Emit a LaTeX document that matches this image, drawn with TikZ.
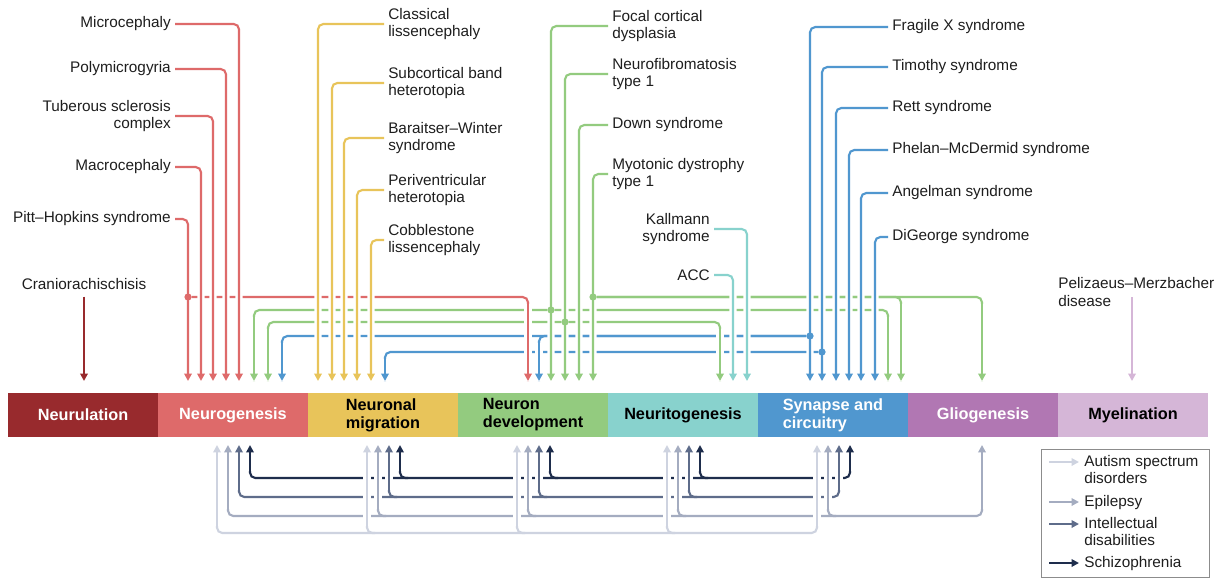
\documentclass[tikz,border=0pt]{standalone}
\usepackage{fontspec}
\setmainfont{Liberation Sans}
\usetikzlibrary{arrows.meta,positioning,calc}
\definecolor{ink}{RGB}{30,30,30}
\definecolor{cNL}{RGB}{152,42,45}
\definecolor{cNG}{RGB}{222,106,106}
\definecolor{cNM}{RGB}{232,196,90}
\definecolor{cND}{RGB}{147,203,127}
\definecolor{cNT}{RGB}{136,210,205}
\definecolor{cSC}{RGB}{80,151,207}
\definecolor{cGL}{RGB}{177,119,179}
\definecolor{cMY}{RGB}{213,182,215}
\definecolor{cASD}{RGB}{206,211,224}
\definecolor{cEPI}{RGB}{164,172,192}
\definecolor{cID}{RGB}{94,108,138}
\definecolor{cSZ}{RGB}{30,45,76}
\newcommand{\lblfont}{\fontsize{11.5}{12.8}\selectfont}
\newcommand{\stagefont}{\fontsize{12.2}{13.5}\selectfont\bfseries}
\tikzset{
    lbl/.style={
        font=\lblfont,
        text=ink,
        inner sep=0pt,
        inner xsep=3pt
    },
    stage/.style={
        minimum width=112.5pt,
        minimum height=33pt,
        inner sep=0pt,
        outer sep=0pt,
        align=left,
        font=\stagefont
    },
    wire/.style={
        line width=1.6pt,
        rounded corners=4pt,
        shorten >=9pt
    },
    upwire/.style={
        wire,
        shorten >=6pt
    },
    tip/.style={
        -{Triangle[length=5.6pt,width=5.6pt]}
    },
    casing/.style={
        preaction={draw=white, line width=5.4pt, -}
    },
    legendbox/.style={
        draw=black!45,
        line width=0.8pt,
        minimum width=126pt,
        minimum height=96pt,
        inner sep=0pt
    }
}
\begin{document}
\begin{tikzpicture}[x=0.75pt, y=-0.75pt]
    \path[use as bounding box, fill=white] (0,0) rectangle (1220,578);

    \node[stage, fill=cNL, text=white, anchor=north west] (nl) at (8,393) {Neurulation};
    \node[stage, fill=cNG, text=white, right=0pt of nl] (ng) {Neurogenesis};
    \node[stage, fill=cNM, text=black, right=0pt of ng] (nm) {Neuronal\\migration};
    \node[stage, fill=cND, text=black, right=0pt of nm] (nd) {Neuron\\development};
    \node[stage, fill=cNT, text=black, right=0pt of nd] (nt) {Neuritogenesis};
    \node[stage, fill=cSC, text=white, right=0pt of nt] (sc) {Synapse and\\circuitry};
    \node[stage, fill=cGL, text=white, right=0pt of sc] (gl) {Gliogenesis};
    \node[stage, fill=cMY, text=black, right=0pt of gl] (my) {Myelination};

    \node[lbl, anchor=east] (micro) at (175,24) {Microcephaly};
    \node[lbl, anchor=east] (poly) at (175,69) {Polymicrogyria};
    \node[lbl, anchor=east, align=right] (tsc) at (175,116) {Tuberous sclerosis\\complex};
    \node[lbl, anchor=east] (macro) at (175,167) {Macrocephaly};
    \node[lbl, anchor=east] (pitt) at (175,219) {Pitt--Hopkins syndrome};
    \node[lbl] (crani) at (84,284) {Craniorachischisis};

    \node[lbl, anchor=west, align=left] (clis) at (384,24) {Classical\\lissencephaly};
    \node[lbl, anchor=west, align=left] (sbh) at (384,83) {Subcortical band\\heterotopia};
    \node[lbl, anchor=west, align=left] (bws) at (384,138) {Baraitser--Winter\\syndrome};
    \node[lbl, anchor=west, align=left] (pvh) at (384,190) {Periventricular\\heterotopia};
    \node[lbl, anchor=west, align=left] (cobl) at (384,240) {Cobblestone\\lissencephaly};

    \node[lbl, anchor=west, align=left] (fcd) at (608,26) {Focal cortical\\dysplasia};
    \node[lbl, anchor=west, align=left] (nfone) at (608,74) {Neurofibromatosis\\type 1};
    \node[lbl, anchor=west] (down) at (608,125) {Down syndrome};
    \node[lbl, anchor=west, align=left] (dm) at (608,174) {Myotonic dystrophy\\type 1};

    \node[lbl, anchor=east, align=right] (kal) at (714,229) {Kallmann\\syndrome};
    \node[lbl, anchor=east] (acc) at (714,275) {ACC};

    \node[lbl, anchor=west] (fxs) at (888,27) {Fragile X syndrome};
    \node[lbl, anchor=west] (tim) at (888,67) {Timothy syndrome};
    \node[lbl, anchor=west] (rett) at (888,108) {Rett syndrome};
    \node[lbl, anchor=west] (pmds) at (888,150) {Phelan--McDermid syndrome};
    \node[lbl, anchor=west] (ang) at (888,193) {Angelman syndrome};
    \node[lbl, anchor=west] (dig) at (888,237) {DiGeorge syndrome};

    \node[lbl, anchor=west, align=left] (pmd) at (1054,292) {Pelizaeus--Merzbacher\\disease};

    \foreach \sg/\dz/\cn in {ng/30/ngA, ng/43/ngB, ng/55/ngC, ng/68/ngD, ng/81/ngE,
        ng/96/ngF, ng/110/ngG, ng/124/ngH,
        nm/10/nmA, nm/24/nmB, nm/36/nmC, nm/49/nmD, nm/63/nmE, nm/77/nmF,
        nd/70/ndA, nd/81/ndB, nd/93/ndC, nd/107/ndD, nd/121/ndE, nd/135/ndF,
        nt/112/ntA, nt/125/ntB, nt/139/ntC,
        sc/52/scA, sc/64/scB, sc/78/scC, sc/91/scD, sc/103/scE, sc/117/scF,
        sc/130/scG, sc/143/scH, gl/74/glA, my/74/myA}
        \path (\sg.north west) ++(\dz,0) coordinate (\cn);

    \coordinate (jph) at ($(ngA)+(0,-96)$);
    \coordinate (jfcd) at ($(ndC)+(0,-83)$);
    \coordinate (jnf) at ($(ndD)+(0,-71)$);
    \coordinate (jfx) at ($(scA)+(0,-57)$);
    \coordinate (jtim) at ($(scB)+(0,-41)$);
    \coordinate (jmdt) at ($(ndF)+(0,-96)$);
    \coordinate (pmdtail) at ($(myA)+(0,-96)$);

    \draw[wire, cNG] (jph) -| (ndA);
    \draw[wire, cND] (jfcd) -| (ngF);
    \draw[wire, cND] (jfcd) -| (scG);
    \draw[wire, cND] (jnf) -| (ngG);
    \draw[wire, cND] (jnf) -| (ntA);
    \draw[wire, cSC] (jfx) -| (ngH);
    \draw[wire, cSC] (jfx) -| (ndB);
    \draw[wire, cSC] (jtim) -| (nmF);
    \draw[wire, cND] (jmdt) -| (scH);
    \draw[wire, cND] (jmdt) -| (glA);

    \foreach \tg/\jc/\col in {ndA/jph/cNG, ngF/jfcd/cND, scG/jfcd/cND, ngG/jnf/cND,
        ntA/jnf/cND, ngH/jfx/cSC, ndB/jfx/cSC, nmF/jtim/cSC, scH/jmdt/cND, glA/jmdt/cND}
        \draw[wire, tip, \col, casing] ($(\tg |- \jc)+(0,7)$) -- (\tg);

    \foreach \lb/\tg in {micro/ngE, poly/ngD, tsc/ngC, macro/ngB, pitt/ngA}
        \draw[wire, tip, cNG, casing] (\lb.east) -| (\tg);
    \foreach \lb/\tg in {clis/nmA, sbh/nmB, bws/nmC, pvh/nmD, cobl/nmE}
        \draw[wire, tip, cNM, casing] (\lb.west) -| (\tg);
    \foreach \lb/\tg in {fcd/ndC, nfone/ndD, down/ndE, dm/ndF}
        \draw[wire, tip, cND, casing] (\lb.west) -| (\tg);
    \foreach \lb/\tg in {kal/ntC, acc/ntB}
        \draw[wire, tip, cNT, casing] (\lb.east) -| (\tg);
    \foreach \lb/\tg in {fxs/scA, tim/scB, rett/scC, pmds/scD, ang/scE, dig/scF}
        \draw[wire, tip, cSC, casing] (\lb.west) -| (\tg);

    \foreach \jc/\col in {jph/cNG, jfcd/cND, jnf/cND, jfx/cSC, jtim/cSC, jmdt/cND}
        \fill[\col] (\jc) circle[radius=2.7pt];

    \draw[wire, tip, cNL, shorten <=5pt] (crani.south) -- (crani.south |- nl.north);
    \draw[wire, tip, cMY] (pmdtail) -- (myA);

    \foreach \sg in {ng,nm,nd,nt,sc}
        \path (\sg.south west) ++(59,0) coordinate (\sg-asd) ++(11,0) coordinate (\sg-epi)
            ++(11,0) coordinate (\sg-id) ++(11,0) coordinate (\sg-sz);
    \path (gl.south west) ++(74,0) coordinate (gl-epi);

    \draw[upwire, shorten <=6pt, cSZ] (ng-sz) |- ($(sc-sz)+(0,41)$) -- (sc-sz);
    \draw[upwire, shorten <=6pt, cID] (ng-id) |- ($(sc-id)+(0,60)$) -- (sc-id);
    \draw[upwire, shorten <=6pt, cEPI] (ng-epi) |- ($(gl-epi)+(0,79)$) -- (gl-epi);
    \draw[upwire, shorten <=6pt, cASD] (ng-asd) |- ($(sc-asd)+(0,96)$) -- (sc-asd);
    \foreach \sg in {nm,nd,nt} {
        \draw[upwire, cSZ] ($(\sg-sz)+(8,41)$) -| (\sg-sz);
        \draw[upwire, cID] ($(\sg-id)+(8,60)$) -| (\sg-id);
        \draw[upwire, cEPI] ($(\sg-epi)+(8,79)$) -| (\sg-epi);
        \draw[upwire, cASD] ($(\sg-asd)+(8,96)$) -| (\sg-asd);
    }
    \draw[upwire, cEPI] ($(sc-epi)+(8,79)$) -| (sc-epi);

    \foreach \dz/\col/\h in {sz/cSZ/41, id/cID/60, epi/cEPI/79, asd/cASD/96}
        \foreach \sg in {ng,nm,nd,nt,sc}
            \draw[upwire, tip, \col, casing] ($(\sg-\dz)+(0,\h-7)$) -- (\sg-\dz);
    \draw[upwire, tip, cEPI, casing] ($(gl-epi)+(0,72)$) -- (gl-epi);

    \node[legendbox, anchor=north west] (legend) at (1041,449) {};
    \node[lbl, anchor=north west, align=left] (lasd) at ($(legend.north west)+(39,6)$) {Autism spectrum\\disorders};
    \node[lbl, anchor=north west] (lepi) at ($(legend.north west)+(39,46)$) {Epilepsy};
    \node[lbl, anchor=north west, align=left] (lid) at ($(legend.north west)+(39,68)$) {Intellectual\\disabilities};
    \node[lbl, anchor=north west] (lsz) at ($(legend.north west)+(39,107)$) {Schizophrenia};
    \foreach \cn/\col in {lasd/cASD, lepi/cEPI, lid/cID, lsz/cSZ}
        \draw[line width=1.6pt, tip, \col] ($(\cn.north west)+(-31,7)$) -- ($(\cn.north west)+(-1,7)$);
\end{tikzpicture}
\end{document}
